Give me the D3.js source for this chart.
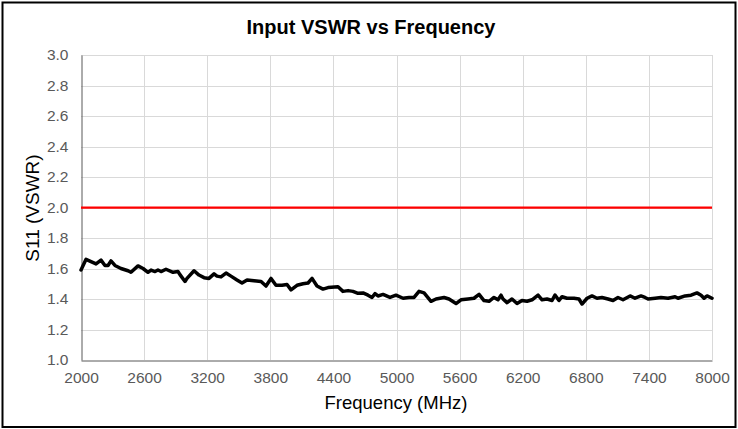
<!DOCTYPE html>
<html>
<head>
<meta charset="utf-8">
<script src="https://cdn.jsdelivr.net/npm/d3@7"></script>
<style>
  html, body { margin: 0; padding: 0; background: #fff; }
  svg { display: block; }
  text { font-family: "Liberation Sans", Arial, sans-serif; }
</style>
</head>
<body>
<svg id="chart" width="738" height="429"></svg>
<script>
// ---- Data ----
const title = "Input VSWR vs Frequency";
const xTitle = "Frequency (MHz)";
const yTitle = "S11 (VSWR)";
const xTicks = [2000, 2600, 3200, 3800, 4400, 5000, 5600, 6200, 6800, 7400, 8000];
const yTicks = [1.0, 1.2, 1.4, 1.6, 1.8, 2.0, 2.2, 2.4, 2.6, 2.8, 3.0];
const limitValue = 2.0;

const frequency = [
  2000, 2048, 2095, 2143, 2190, 2228, 2257, 2285, 2323, 2380, 2447, 2475, 2542, 2590, 2637, 2666,
  2704, 2732, 2761, 2808, 2875, 2922, 2941, 2989, 3008, 3075, 3122, 3170, 3217, 3265, 3293, 3331,
  3379, 3426, 3483, 3531, 3579, 3645, 3712, 3759, 3807, 3854, 3911, 3959, 3997, 4054, 4111, 4159,
  4197, 4244, 4301, 4349, 4444, 4491, 4539, 4586, 4634, 4682, 4729, 4767, 4796, 4824, 4872, 4938,
  4995, 5062, 5119, 5167, 5214, 5262, 5328, 5376, 5452, 5499, 5566, 5613, 5680, 5737, 5785, 5832,
  5880, 5927, 5965, 5994, 6013, 6051, 6098, 6146, 6193, 6241, 6289, 6346, 6384, 6431, 6479, 6507,
  6545, 6574, 6621, 6688, 6735, 6764, 6812, 6859, 6906, 6954, 7011, 7059, 7106, 7154, 7221, 7268,
  7325, 7363, 7392, 7459, 7515, 7582, 7649, 7677, 7744, 7801, 7857, 7896, 7924, 7953, 8000
];
const vswr = [
  1.59, 1.66, 1.645, 1.63, 1.655, 1.62, 1.62, 1.65, 1.62, 1.60, 1.585, 1.575, 1.617, 1.60, 1.575, 1.59,
  1.58, 1.59, 1.58, 1.595, 1.575, 1.58, 1.56, 1.515, 1.535, 1.585, 1.557, 1.54, 1.535, 1.565, 1.55, 1.545,
  1.57, 1.55, 1.525, 1.505, 1.525, 1.52, 1.515, 1.485, 1.535, 1.49, 1.49, 1.495, 1.46, 1.49, 1.50, 1.505,
  1.535, 1.485, 1.465, 1.475, 1.48, 1.45, 1.455, 1.45, 1.437, 1.44, 1.425, 1.41, 1.435, 1.42, 1.43, 1.41,
  1.425, 1.405, 1.41, 1.41, 1.45, 1.44, 1.385, 1.40, 1.41, 1.40, 1.37, 1.395, 1.40, 1.405, 1.43, 1.39,
  1.385, 1.41, 1.395, 1.425, 1.40, 1.376, 1.40, 1.37, 1.39, 1.385, 1.395, 1.426, 1.395, 1.40, 1.39, 1.426,
  1.39, 1.415, 1.405, 1.405, 1.40, 1.367, 1.405, 1.42, 1.405, 1.41, 1.40, 1.39, 1.41, 1.395, 1.42, 1.405,
  1.42, 1.41, 1.40, 1.405, 1.41, 1.405, 1.415, 1.405, 1.42, 1.425, 1.44, 1.425, 1.405, 1.42, 1.405
];

// ---- Layout ----
const W = 738, H = 429;
const plot = { left: 81, right: 712, top: 55, bottom: 360 };

const svg = d3.select("#chart");

// outer border
svg.append("rect")
  .attr("x", 2.5).attr("y", 2.5)
  .attr("width", W - 5).attr("height", H - 4.5)
  .attr("fill", "#fff").attr("stroke", "#000").attr("stroke-width", 2);

const x = d3.scaleLinear().domain([2000, 8000]).range([plot.left, plot.right]);
const y = d3.scaleLinear().domain([1.0, 3.0]).range([plot.bottom, plot.top]);

// gridlines
const grid = svg.append("g");
grid.selectAll("line.h").data(yTicks.slice(1)).enter().append("line")
  .attr("x1", plot.left).attr("x2", plot.right)
  .attr("y1", d => Math.round(y(d)) + 0.5).attr("y2", d => Math.round(y(d)) + 0.5)
  .attr("stroke", "#d9d9d9").attr("stroke-width", 1);
grid.selectAll("line.v").data(xTicks.slice(1)).enter().append("line")
  .attr("x1", d => Math.round(x(d)) + 0.5).attr("x2", d => Math.round(x(d)) + 0.5)
  .attr("y1", plot.top).attr("y2", plot.bottom)
  .attr("stroke", "#d9d9d9").attr("stroke-width", 1);

// axes
const xAxis = d3.axisBottom(x).tickValues(xTicks).tickSize(0).tickPadding(11).tickFormat(d3.format("d"));
const yAxis = d3.axisLeft(y).tickValues(yTicks).tickSize(0).tickPadding(13).tickFormat(d3.format(".1f"));

const gx = svg.append("g").attr("transform", `translate(0,${plot.bottom + 0.5})`).call(xAxis);
gx.select(".domain").attr("stroke", "#595959").attr("stroke-width", 1);
gx.selectAll("text").attr("fill", "#595959").style("font-size", "15.5px")
  .style("font-family", "'Liberation Sans', Arial, sans-serif");

const gy = svg.append("g").attr("transform", `translate(${plot.left + 0.5},0)`).call(yAxis);
gy.select(".domain").attr("stroke", "#595959").attr("stroke-width", 1);
gy.selectAll("text").attr("fill", "#595959").style("font-size", "15.5px")
  .style("font-family", "'Liberation Sans', Arial, sans-serif");

// limit line
svg.append("line")
  .attr("x1", x(2000)).attr("x2", x(8000))
  .attr("y1", y(limitValue)).attr("y2", y(limitValue))
  .attr("stroke", "#ff0000").attr("stroke-width", 2.25);

// data line
const pts = frequency.map((f, i) => [f, vswr[i]]);
svg.append("path")
  .datum(pts)
  .attr("fill", "none")
  .attr("stroke", "#000")
  .attr("stroke-width", 3.5)
  .attr("stroke-linejoin", "round")
  .attr("stroke-linecap", "round")
  .attr("d", d3.line().x(d => x(d[0])).y(d => y(d[1])));

// titles
svg.append("text")
  .attr("x", 371).attr("y", 34)
  .attr("text-anchor", "middle")
  .style("font-size", "20px").style("font-weight", "bold")
  .attr("fill", "#000")
  .text(title);

svg.append("text")
  .attr("x", 396).attr("y", 409)
  .attr("text-anchor", "middle")
  .style("font-size", "18.5px")
  .attr("fill", "#000")
  .text(xTitle);

svg.append("text")
  .attr("transform", `translate(39,208) rotate(-90)`)
  .attr("text-anchor", "middle")
  .style("font-size", "19px")
  .attr("fill", "#000")
  .text(yTitle);
</script>
</body>
</html>
